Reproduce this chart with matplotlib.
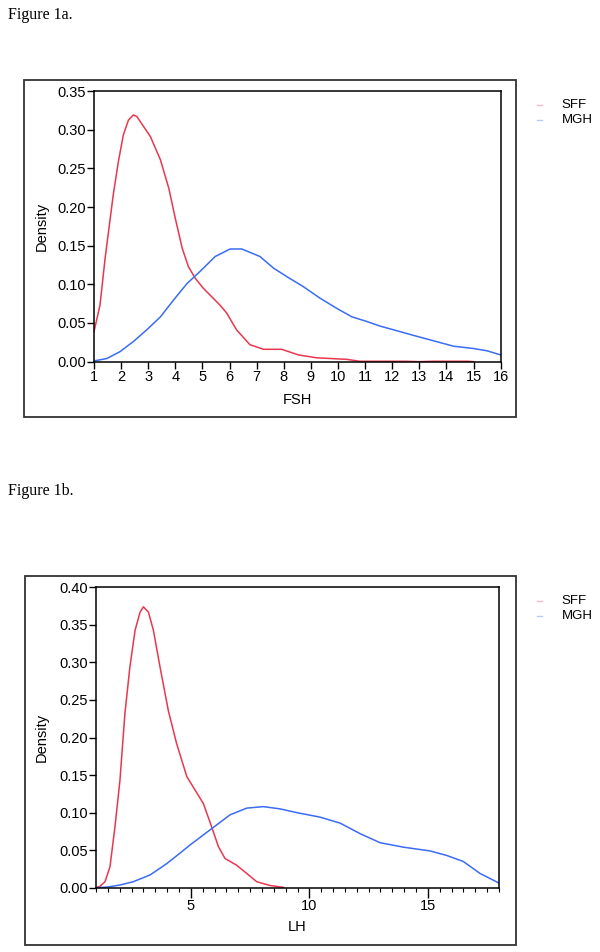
import matplotlib.pyplot as plt
from matplotlib.patches import Rectangle
from matplotlib.lines import Line2D
from matplotlib.ticker import MultipleLocator

# Figure 1a: FSH densities
fsh_sff_x = [1.0, 1.22, 1.41, 1.71, 1.90, 2.08, 2.27, 2.45, 2.58, 2.83, 3.08, 3.45, 3.76,
             4.0, 4.25, 4.48, 4.73, 5.03, 5.34, 5.65, 5.89, 6.26, 6.75, 7.25, 7.92, 8.54,
             9.21, 10.32, 10.8, 11.5, 12.5, 13.0, 13.5, 14.8, 15.0]
fsh_sff_y = [0.039, 0.073, 0.134, 0.216, 0.259, 0.293, 0.3125, 0.319, 0.317, 0.304, 0.291,
             0.261, 0.224, 0.185, 0.147, 0.123, 0.108, 0.095, 0.084, 0.073, 0.063, 0.041,
             0.022, 0.016, 0.016, 0.0087, 0.005, 0.003, 0.0005, 0.0005, 0.0005, 0.0,
             0.0005, 0.0005, 0.0]
fsh_mgh_x = [1.0, 1.47, 1.96, 2.45, 2.94, 3.45, 3.94, 4.43, 4.92, 5.47, 6.02, 6.45, 7.12,
             7.62, 8.11, 8.72, 9.34, 9.95, 10.51, 11.06, 11.55, 12.17, 12.78, 13.52, 14.26,
             15.0, 15.5, 16.0]
fsh_mgh_y = [0.001, 0.004, 0.013, 0.026, 0.041, 0.058, 0.080, 0.101, 0.117, 0.136, 0.1457,
             0.1457, 0.136, 0.121, 0.110, 0.097, 0.082, 0.069, 0.058, 0.052, 0.046, 0.040,
             0.034, 0.027, 0.020, 0.017, 0.014, 0.0087]

# Figure 1b: LH densities
lh_sff_x = [1.0, 1.17, 1.38, 1.59, 1.80, 2.01, 2.22, 2.43, 2.65, 2.86, 3.0, 3.21, 3.42,
            3.70, 4.05, 4.40, 4.83, 5.18, 5.53, 5.88, 6.16, 6.44, 6.93, 7.36, 7.78, 8.34, 8.91]
lh_sff_y = [0.0, 0.002, 0.008, 0.028, 0.081, 0.143, 0.232, 0.294, 0.343, 0.367, 0.374, 0.367,
            0.343, 0.294, 0.236, 0.192, 0.148, 0.130, 0.112, 0.081, 0.055, 0.039, 0.030,
            0.019, 0.008, 0.003, 0.0005]
lh_mgh_x = [1.0, 1.5, 2.01, 2.57, 3.28, 3.98, 4.54, 4.97, 5.81, 6.65, 7.36, 8.06, 8.76,
            9.47, 10.45, 11.30, 12.14, 12.98, 13.97, 15.09, 15.79, 16.49, 17.2, 17.97]
lh_mgh_y = [0.0, 0.001, 0.0036, 0.008, 0.017, 0.032, 0.046, 0.057, 0.077, 0.097, 0.106,
            0.108, 0.105, 0.100, 0.094, 0.086, 0.072, 0.060, 0.054, 0.049, 0.043, 0.035,
            0.019, 0.0067]

groups = ["SFF", "MGH"]
RED = "#E8374F"
BLUE = "#3A6CF4"

plt.rcParams["font.family"] = ["Liberation Sans", "DejaVu Sans"]

fig = plt.figure(figsize=(6, 9.52), dpi=100)


def style_axes(ax):
    for s in ax.spines.values():
        s.set_linewidth(1.1)
    ax.tick_params(direction="out", length=5, width=1.0, labelsize=10.5, pad=1)
    ax.tick_params(which="minor", direction="out", length=3, width=0.8)


def add_legend(y_top):
    # faint short dashes + labels, outside the framed panel
    for i, (name, col) in enumerate(zip(groups, ["#F5B9C6", "#B9CBF5"])):
        yy = y_top - i * 0.0158
        fig.add_artist(Line2D([0.895, 0.904], [yy, yy], color=col, lw=1.0,
                              transform=fig.transFigure))
        fig.text(0.936, yy, name, fontsize=9.5, va="center", ha="left")


# ---- Figure 1a ----
fig.text(0.013, 0.984, "Figure 1a.", family="Liberation Serif", fontsize=11.5,
         va="center", ha="left")
fig.add_artist(Rectangle((0.04, 0.562), 0.82, 0.354, transform=fig.transFigure,
                         fill=False, ec="#333333", lw=1.3))
ax1 = fig.add_axes([0.1567, 0.6201, 0.6778, 0.2843])
ax1.plot(fsh_sff_x, fsh_sff_y, color=RED, lw=1.1)
ax1.plot(fsh_mgh_x, fsh_mgh_y, color=BLUE, lw=1.1)
ax1.set_xlim(1, 16)
ax1.set_ylim(0, 0.35)
ax1.set_xticks(range(1, 17))
ax1.set_yticks([0.0, 0.05, 0.10, 0.15, 0.20, 0.25, 0.30, 0.35])
ax1.set_yticklabels([f"{v:.2f}" for v in ax1.get_yticks()])
style_axes(ax1)
ax1.set_ylabel("Density", fontsize=10.5, va="center")
ax1.set_xlabel("FSH", fontsize=10.5, va="center")
ax1.yaxis.set_label_coords(-0.128, 0.5)
ax1.xaxis.set_label_coords(0.5, -0.141)
add_legend(0.890)

# ---- Figure 1b ----
fig.text(0.013, 0.484, "Figure 1b.", family="Liberation Serif", fontsize=11.5,
         va="center", ha="left")
fig.add_artist(Rectangle((0.0417, 0.0074), 0.818, 0.3876, transform=fig.transFigure,
                         fill=False, ec="#333333", lw=1.3))
ax2 = fig.add_axes([0.16, 0.0675, 0.6717, 0.3156])
ax2.plot(lh_sff_x, lh_sff_y, color=RED, lw=1.1)
ax2.plot(lh_mgh_x, lh_mgh_y, color=BLUE, lw=1.1)
ax2.set_xlim(1, 18)
ax2.set_ylim(0, 0.40)
ax2.set_xticks([5, 10, 15])
ax2.xaxis.set_minor_locator(MultipleLocator(0.5))
ax2.set_yticks([0.0, 0.05, 0.10, 0.15, 0.20, 0.25, 0.30, 0.35, 0.40])
ax2.set_yticklabels([f"{v:.2f}" for v in ax2.get_yticks()])
style_axes(ax2)
ax2.tick_params(axis="x", which="major", length=7)
ax2.set_ylabel("Density", fontsize=10.5, va="center")
ax2.set_xlabel("LH", fontsize=10.5, va="center")
ax2.yaxis.set_label_coords(-0.134, 0.5)
ax2.xaxis.set_label_coords(0.5, -0.131)
add_legend(0.369)

fig.savefig("out.png", dpi=100)
